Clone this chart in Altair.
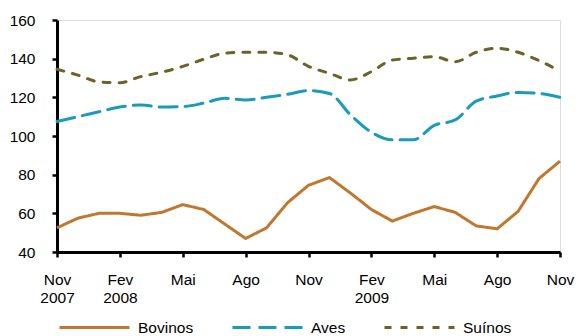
import altair as alt
import pandas as pd

# Monthly index: 0 = Nov 2007 ... 24 = Nov 2009
months = list(range(25))
bovinos = [52.5, 57.5, 60, 60, 59, 60.5, 64.5, 62, 54.5, 47, 52.5, 65.5, 74.5,
           78.5, 70.5, 62, 56, 60, 63.5, 60.5, 53.5, 52, 61, 78, 87]
aves = [107.5, 110, 112.5, 115, 116, 115, 115.2, 117, 119.5, 118.6, 120, 121.6, 123.5,
        122, 111, 102, 98, 98, 105.5, 108.3, 118, 120.7, 122.5, 122, 120]
suinos = [134.5, 131.5, 128, 127.6, 130.7, 133, 136, 139.7, 142.8, 143.3, 143.3, 142, 136,
          132.4, 129, 133.3, 139.3, 140.2, 141, 138.4, 143.3, 145.4, 143.3, 139, 133.5]

series_names = ["Bovinos", "Aves", "Suínos"]
series_colors = ["#C0782E", "#1A9BBA", "#6B6328"]
tick_values = [0, 3, 6, 9, 12, 15, 18, 21, 24]
tick_labels = [["Nov", "2007"], ["Fev", "2008"], ["Mai"], ["Ago"], ["Nov"],
               ["Fev", "2009"], ["Mai"], ["Ago"], ["Nov"]]

rows = []
for name, vals in zip(series_names, [bovinos, aves, suinos]):
    for m, v in zip(months, vals):
        rows.append({"mes": m, "valor": v, "serie": name})
df = pd.DataFrame(rows)

label_arr = "[" + ",".join(
    "[" + ",".join("'" + s + "'" for s in lab) + "]" for lab in tick_labels) + "]"
label_expr = label_arr + "[round(datum.value/3)]"

FONT = "Liberation Sans"

x = alt.X("mes:Q",
          scale=alt.Scale(domain=[0, 24], nice=False, zero=False),
          axis=alt.Axis(values=tick_values, labelExpr=label_expr, title=None,
                        grid=False, domainColor="black", domainWidth=3,
                        tickColor="black", tickWidth=2.5, tickSize=5,
                        labelPadding=15, labelFontSize=15.5, labelColor="black",
                        labelFont=FONT, labelLineHeight=18, labelFlush=False))
y = alt.Y("valor:Q",
          scale=alt.Scale(domain=[40, 160], nice=False, zero=False),
          axis=alt.Axis(values=[40, 60, 80, 100, 120, 140, 160], title=None,
                        grid=False, domainColor="black", domainWidth=3,
                        tickColor="black", tickWidth=2.5, tickSize=5,
                        labelPadding=17, labelFontSize=15.5, labelColor="black",
                        labelFont=FONT))

def make_legend():
    return alt.Legend(title=None, orient="none", direction="horizontal",
                      legendX=1, legendY=271, gridAlign="each", columns=3,
                      symbolType="stroke", symbolSize=4900,
                      labelFontSize=15.5, labelFont=FONT, labelColor="black",
                      labelOffset=7, columnPadding=32)

color = alt.Color("serie:N",
                  scale=alt.Scale(domain=series_names, range=series_colors),
                  legend=make_legend())
dash = alt.StrokeDash("serie:N",
                      scale=alt.Scale(domain=series_names,
                                      range=[[1, 0], [18, 8], [7, 9]]),
                      legend=make_legend())
width = alt.StrokeWidth("serie:N",
                        scale=alt.Scale(domain=series_names, range=[3, 3, 5.5]),
                        legend=make_legend())

base = alt.Chart(df).encode(x=x, y=y, color=color, strokeDash=dash, strokeWidth=width)

bov = base.transform_filter(alt.datum.serie == "Bovinos").mark_line(strokeCap="butt")
others = base.transform_filter(alt.datum.serie != "Bovinos").mark_line(
    interpolate="monotone", strokeCap="round")

chart = alt.layer(bov, others).properties(
    width=503, height=232,
    autosize=alt.AutoSizeParams(type="none"),
    padding={"left": 57, "top": 20, "right": 16, "bottom": 84},
).configure_view(stroke=None).configure(background="white").configure_legend(
    gridAlign="each")

chart.save("out.html", embed_options={"renderer": "svg", "actions": False})
